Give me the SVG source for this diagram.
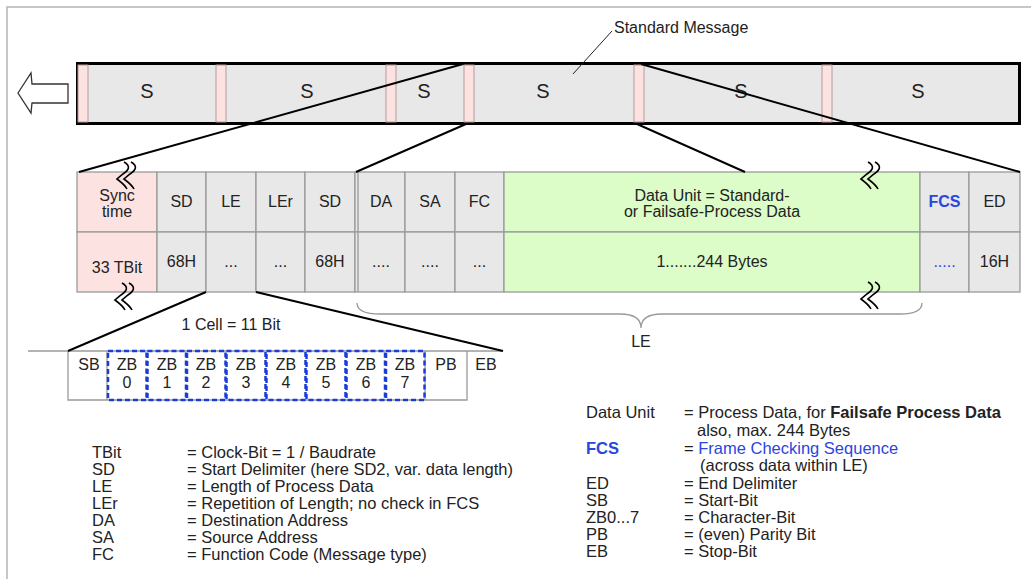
<svg xmlns="http://www.w3.org/2000/svg" width="1031" height="579" viewBox="0 0 1031 579">
<style>
text{font-family:"Liberation Sans",Arial,sans-serif;fill:#222;font-size:16px}
.c{text-anchor:middle}
.s{font-size:20px}
.b{font-size:16px}
.lg{font-size:16.5px}
.blue{fill:#2a46e0}
.bold{font-weight:bold}
.cell{stroke:#9a9a9a;stroke-width:1.3}
.gray{fill:#e8e8e8}
.pink{fill:#fde2e2}
.green{fill:#dcfcc8}
.sep{fill:#fde2e2;stroke:#b89a9a;stroke-width:1}
.conn{stroke:#000;stroke-width:2;fill:none}
.sq{stroke:#000;stroke-width:1.6;fill:none}
.zb{fill:none;stroke:#1a3cd8;stroke-width:2.5;stroke-dasharray:5 3}
.frame{stroke:#b4b4b4;stroke-width:1.5;fill:none}
</style>
<defs>
<g id="squig">
<path d="M8 0 C15 4 13 8 7 12 L1 17 C5 20 9 23 11 27"/>
<path d="M15 0 C22 4 20 8 14 12 L8 17 C12 20 16 23 18 27"/>
</g>
</defs>
<rect width="1031" height="579" fill="#fff"/>
<path class="frame" d="M7 579 V7 H1031"/>

<g id="arrow"><polygon points="18,93 31,73 32,84 68,84 68,103 32,103 31,113" fill="#fff" stroke="#333" stroke-width="1.3"/></g>

<g id="message">
<rect x="77.5" y="63.5" width="942" height="60" fill="#e8e8e8" stroke="#000" stroke-width="3"/>
<rect class="sep" x="78" y="65" width="10" height="57"/>
<rect class="sep" x="216" y="65" width="10" height="57"/>
<rect class="sep" x="386" y="65" width="10" height="57"/>
<rect class="sep" x="464" y="65" width="10" height="57"/>
<rect class="sep" x="634" y="65" width="10" height="57"/>
<rect class="sep" x="822" y="65" width="10" height="57"/>
<text class="c s" x="147" y="98">S</text>
<text class="c s" x="307" y="98">S</text>
<text class="c s" x="424" y="98">S</text>
<text class="c s" x="543" y="98">S</text>
<text class="c s" x="741" y="98">S</text>
<text class="c s" x="918" y="98">S</text>
</g>

<g id="label-standard">
<text x="614" y="33">Standard Message</text>
<path d="M612 31 L573 74" stroke="#222" stroke-width="1" fill="none"/>
</g>

<g id="frame-table">
<rect class="cell pink" x="77" y="172" width="80" height="60"/>
<rect class="cell pink" x="77" y="232" width="80" height="60"/>
<rect class="cell gray" x="157" y="172" width="49" height="60"/>
<rect class="cell gray" x="157" y="232" width="49" height="60"/>
<rect class="cell gray" x="206" y="172" width="50" height="60"/>
<rect class="cell gray" x="206" y="232" width="50" height="60"/>
<rect class="cell gray" x="256" y="172" width="49" height="60"/>
<rect class="cell gray" x="256" y="232" width="49" height="60"/>
<rect class="cell gray" x="305" y="172" width="50" height="60"/>
<rect class="cell gray" x="305" y="232" width="50" height="60"/>
<rect class="cell gray" x="355" y="172" width="50" height="60"/>
<rect class="cell gray" x="355" y="232" width="50" height="60"/>
<rect class="cell gray" x="405" y="172" width="50" height="60"/>
<rect class="cell gray" x="405" y="232" width="50" height="60"/>
<rect class="cell gray" x="455" y="172" width="49" height="60"/>
<rect class="cell gray" x="455" y="232" width="49" height="60"/>
<rect class="cell green" x="504" y="172" width="416" height="60"/>
<rect class="cell green" x="504" y="232" width="416" height="60"/>
<rect class="cell gray" x="920" y="172" width="49" height="60"/>
<rect class="cell gray" x="920" y="232" width="49" height="60"/>
<rect class="cell gray" x="969" y="172" width="51" height="60"/>
<rect class="cell gray" x="969" y="232" width="51" height="60"/>
<path d="M358 172 V292" stroke="#9a9a9a" stroke-width="1.3"/>
<text class="c" x="117" y="201">Sync</text>
<text class="c" x="117" y="217">time</text>
<text class="c" x="117" y="273">33 TBit</text>
<text class="c" x="181.5" y="207">SD</text>
<text class="c" x="231" y="207">LE</text>
<text class="c" x="280.5" y="207">LEr</text>
<text class="c" x="330" y="207">SD</text>
<text class="c" x="381" y="207">DA</text>
<text class="c" x="430" y="207">SA</text>
<text class="c" x="479.5" y="207">FC</text>
<text class="c" x="712" y="201">Data Unit = Standard-</text>
<text class="c" x="712" y="217">or Failsafe-Process Data</text>
<text class="c blue bold" x="944.5" y="207">FCS</text>
<text class="c" x="994.5" y="207">ED</text>
<text class="c" x="181.5" y="267">68H</text>
<text class="c" x="231" y="267">...</text>
<text class="c" x="280.5" y="267">...</text>
<text class="c" x="330" y="267">68H</text>
<text class="c" x="381" y="267">....</text>
<text class="c" x="430" y="267">....</text>
<text class="c" x="479.5" y="267">...</text>
<text class="c" x="712" y="267">1.......244 Bytes</text>
<text class="c blue" x="944.5" y="267">.....</text>
<text class="c" x="994.5" y="267">16H</text>
</g>

<g id="breaks" class="sq">
<use href="#squig" x="116" y="162"/>
<use href="#squig" x="114" y="283"/>
<use href="#squig" x="860" y="162"/>
<use href="#squig" x="860" y="282"/>
</g>

<g id="brace-le">
<path d="M357 303 Q357 314 380 314 L620 314 Q641 314 641 328 Q641 314 662 314 L900 314 Q922 314 922 303" fill="none" stroke="#999" stroke-width="1.3"/>
<text class="c" x="641" y="347">LE</text>
</g>

<g id="bit-cell">
<path d="M28 351 H503 M68 351 V400 H467 V351 M107 351 V400 M425 351 V400" fill="none" stroke="#9a9a9a" stroke-width="1.3"/>
<rect class="zb" x="108" y="351" width="38.5" height="49"/>
<rect class="zb" x="147.5" y="351" width="38.5" height="49"/>
<rect class="zb" x="187" y="351" width="38.5" height="49"/>
<rect class="zb" x="226.5" y="351" width="39" height="49"/>
<rect class="zb" x="266.5" y="351" width="39" height="49"/>
<rect class="zb" x="306.5" y="351" width="39" height="49"/>
<rect class="zb" x="346.5" y="351" width="38.5" height="49"/>
<rect class="zb" x="386" y="351" width="38.5" height="49"/>
<text class="c b" x="89" y="370">SB</text>
<text class="c b" x="127" y="370">ZB</text><text class="c b" x="127" y="388">0</text>
<text class="c b" x="167" y="370">ZB</text><text class="c b" x="167" y="388">1</text>
<text class="c b" x="206" y="370">ZB</text><text class="c b" x="206" y="388">2</text>
<text class="c b" x="246" y="370">ZB</text><text class="c b" x="246" y="388">3</text>
<text class="c b" x="286" y="370">ZB</text><text class="c b" x="286" y="388">4</text>
<text class="c b" x="326" y="370">ZB</text><text class="c b" x="326" y="388">5</text>
<text class="c b" x="366" y="370">ZB</text><text class="c b" x="366" y="388">6</text>
<text class="c b" x="405" y="370">ZB</text><text class="c b" x="405" y="388">7</text>
<text class="c b" x="446" y="370">PB</text>
<text class="c b" x="486" y="370">EB</text>
<text class="c" x="231" y="330">1 Cell = 11 Bit</text>
</g>

<g id="connectors" class="conn">
<path d="M463 64 L79 172"/>
<path d="M466 124 L356 172"/>
<path d="M641 64 L1020 172"/>
<path d="M637 124 L745 172"/>
<path d="M206 292 L68 351"/>
<path d="M256 292 L503 351"/>
</g>

<g id="legend-left" class="lg">
<text class="lg" x="92" y="458">TBit</text><text class="lg" x="187" y="458">= Clock-Bit = 1 / Baudrate</text>
<text class="lg" x="92" y="475">SD</text><text class="lg" x="187" y="475">= Start Delimiter (here SD2, var. data length)</text>
<text class="lg" x="92" y="492">LE</text><text class="lg" x="187" y="492">= Length of Process Data</text>
<text class="lg" x="92" y="509">LEr</text><text class="lg" x="187" y="509">= Repetition of Length; no check in FCS</text>
<text class="lg" x="92" y="526">DA</text><text class="lg" x="187" y="526">= Destination Address</text>
<text class="lg" x="92" y="543">SA</text><text class="lg" x="187" y="543">= Source Address</text>
<text class="lg" x="92" y="560">FC</text><text class="lg" x="187" y="560">= Function Code (Message type)</text>
</g>

<g id="legend-right">
<text class="lg" x="586" y="418">Data Unit</text><text class="lg" x="684" y="418">= Process Data, for <tspan class="bold">Failsafe Process Data</tspan></text>
<text class="lg" x="697" y="436">also, max. 244 Bytes</text>
<text class="lg blue bold" x="586" y="454">FCS</text><text class="lg" x="684" y="454">= <tspan class="blue">Frame Checking Sequence</tspan></text>
<text class="lg" x="700" y="471">(across data within LE)</text>
<text class="lg" x="586" y="489">ED</text><text class="lg" x="684" y="489">= End Delimiter</text>
<text class="lg" x="586" y="506">SB</text><text class="lg" x="684" y="506">= Start-Bit</text>
<text class="lg" x="586" y="523">ZB0...7</text><text class="lg" x="684" y="523">= Character-Bit</text>
<text class="lg" x="586" y="540">PB</text><text class="lg" x="684" y="540">= (even) Parity Bit</text>
<text class="lg" x="586" y="557">EB</text><text class="lg" x="684" y="557">= Stop-Bit</text>
</g>
</svg>
